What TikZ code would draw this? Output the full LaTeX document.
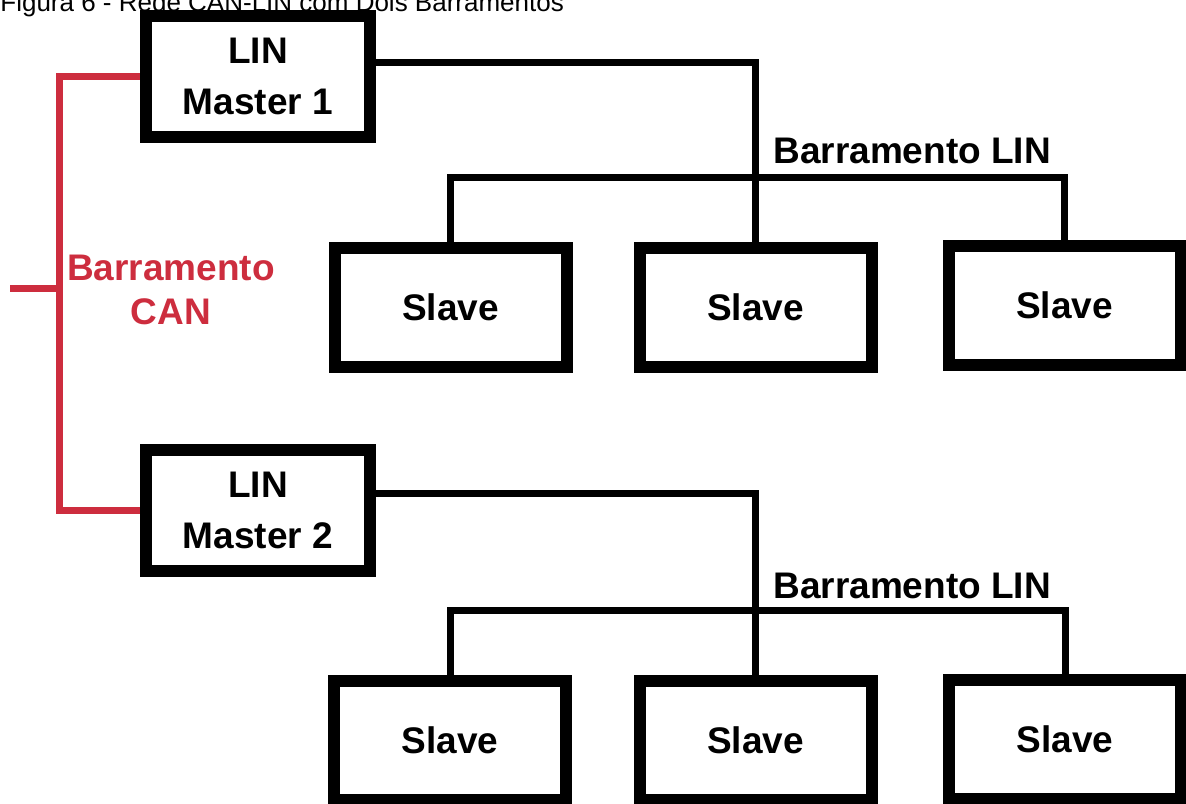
\documentclass[tikz,border=0pt]{standalone}
\usepackage{fontspec}
\setmainfont{Liberation Sans}
\usetikzlibrary{positioning,backgrounds}
\definecolor{canred}{RGB}{205,45,62}
\tikzset{
  every node/.style={font=\bfseries\fontsize{18.5}{22}\selectfont},
  unit/.style={draw=black, fill=white, line width=6pt, inner sep=0pt},
  master unit/.style={unit, minimum width=112pt, minimum height=60.5pt,
    align=center, font=\bfseries\fontsize{18.5}{25.5}\selectfont},
  slave unit/.style={unit, minimum width=116pt, minimum height=59.5pt},
  bus/.style={line width=3.5pt, line join=miter},
  can bus/.style={bus, draw=canred},
  bus label/.style={anchor=base west, inner sep=0pt}
}

\begin{document}
\begin{tikzpicture}[x=0.5pt,y=-0.5pt]
  \useasboundingbox (0,0) rectangle (1186,803);
  \clip (0,0) rectangle (1186,803);

  \node[anchor=base west, inner sep=0pt, font=\fontsize{13}{15}\selectfont] (title) at (0,11)
    {Figura 6 - Rede CAN-LIN com Dois Barramentos};

  % first LIN network
  \node[master unit] (m1) at (258,76.5) {LIN\\Master 1};
  \node[slave unit] (s11) at (450.5,307.5) {Slave};
  \node[slave unit] (s12) at (755.5,307.5) {Slave};
  \node[slave unit] (s13) at (1064.5,305.5) {Slave};
  \coordinate (tap1) at (755,62);
  \coordinate (lin1) at (755,177);
  \node[bus label] (lab1) at (773,163) {Barramento LIN};

  % second LIN network
  \node[master unit] (m2) at (258,510) {LIN\\Master 2};
  \node[slave unit] (s21) at (450,740.5) {Slave};
  \node[slave unit] (s22) at (755.5,740.5) {Slave};
  \node[slave unit] (s23) at (1065,739) {Slave};
  \coordinate (tap2) at (755,493);
  \coordinate (lin2) at (755,610);
  \node[bus label] (lab2) at (773,598) {Barramento LIN};

  % CAN bus
  \coordinate (canx) at (59,288);
  \coordinate (canend) at (10,288);
  \node[text=canred, align=center] (canlabel) at (171,290) {Barramento\\CAN};

  \begin{scope}[on background layer]
    \draw[bus] (m1.east |- tap1) -| (s12.north);
    \draw[bus] (s11.north) |- (lin1) -| (s13.north);
    \draw[bus] (m2.east |- tap2) -| (s22.north);
    \draw[bus] (s21.north) |- (lin2) -| (s23.north);
    \draw[can bus] (m1.west) -| (canx) |- (m2.west);
    \draw[can bus] (canend) -- (canx);
  \end{scope}
\end{tikzpicture}
\end{document}
